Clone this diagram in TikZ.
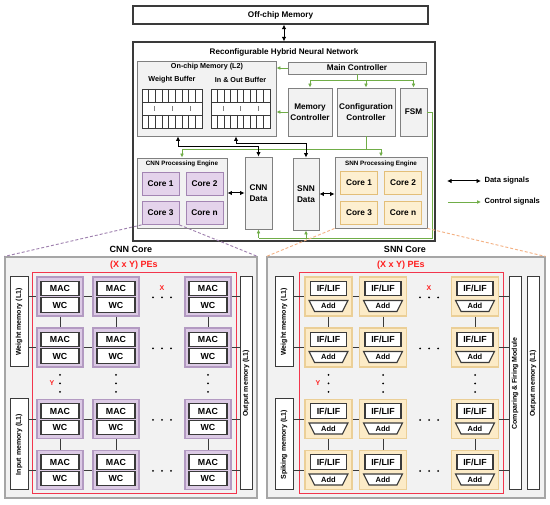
\documentclass[tikz,border=0pt]{standalone}
\usepackage{fontspec}
\setmainfont{Liberation Sans}
\usetikzlibrary{arrows.meta,shapes.geometric,calc}
\definecolor{dark}{HTML}{3A3A3A}
\definecolor{boxgray}{HTML}{808080}
\definecolor{fillgray}{HTML}{F2F2F2}
\definecolor{cgreen}{HTML}{70AD47}
\definecolor{pfill}{HTML}{E4D3EB}
\definecolor{pdraw}{HTML}{A385B3}
\definecolor{pefill}{HTML}{DCCAE5}
\definecolor{pedraw}{HTML}{B39AC2}
\definecolor{yfill}{HTML}{FDEFD0}
\definecolor{ydraw}{HTML}{E3BE78}
\definecolor{yefill}{HTML}{FCEBC7}
\definecolor{yedraw}{HTML}{EBCF97}
\definecolor{rline}{HTML}{F2364D}
\definecolor{rtext}{HTML}{FF1F1F}
\definecolor{odash}{HTML}{F4B183}
\definecolor{pdash}{HTML}{9E7FAE}
\definecolor{coregray}{HTML}{A6A6A6}
\newcommand{\fsz}[2]{\fontsize{#1}{#2}\selectfont\bfseries}
\newcommand{\drawbuf}[2]{%
  \draw[dark, line width=0.8pt, fill=white] (#1,89) rectangle (#2,128);
  \draw[dark, line width=0.8pt] (#1,102) -- (#2,102) (#1,115) -- (#2,115);
  \foreach \i in {1,...,8} {
    \draw[dark, line width=0.8pt] ({#1+(#2-#1)*\i/9},89) -- ++(0,13) ({#1+(#2-#1)*\i/9},115) -- ++(0,13);
  }
  \foreach \f in {0.2,0.5,0.8} \draw[gray, line width=0.6pt] ({#1+(#2-#1)*\f},106) -- ++(0,5);
}
\begin{document}
\begin{tikzpicture}[x=1pt,y=-1pt,
  arr/.style={draw=black, line width=1pt, {Latex[length=4.5pt,width=4.5pt]}-{Latex[length=4.5pt,width=4.5pt]}},
  gline/.style={draw=cgreen, line width=0.9pt},
  garr/.style={gline, -{Latex[length=4pt,width=3.8pt]}},
  gbox/.style={draw=boxgray, fill=fillgray, line width=0.9pt, inner sep=0pt, align=center},
  mainbox/.style={draw=dark, fill=white, line width=1.2pt, inner sep=0pt},
  ccore/.style={draw=pdraw, fill=pfill, line width=0.8pt, minimum width=37pt, minimum height=23pt, inner sep=0pt, font={\fsz{8.3}{9}}},
  score/.style={draw=ydraw, fill=yfill, line width=0.8pt, minimum width=37pt, minimum height=23pt, inner sep=0pt, font={\fsz{8.3}{9}}},
  corebox/.style={draw=coregray, fill=fillgray, line width=1.1pt, inner sep=0pt},
  membox/.style={draw=dark, fill=white, line width=1pt, inner sep=0pt},
  redbox/.style={draw=rline, line width=1pt, inner sep=0pt},
  cpestyle/.style={draw=pedraw, fill=pefill, line width=1.5pt, minimum width=46pt, minimum height=39pt, inner sep=0pt},
  spestyle/.style={draw=yedraw, fill=yefill, line width=1.3pt, minimum width=47pt, minimum height=39pt, inner sep=0pt},
  inbox/.style={draw=dark, fill=white, line width=1.1pt, minimum width=38pt, minimum height=14.5pt, inner sep=0pt, font={\fsz{8.8}{9}}},
  addbox/.style={trapezium, trapezium angle=62, shape border rotate=180, trapezium stretches=true, minimum width=39pt, minimum height=11pt, inner sep=0pt, draw=dark, fill=white, line width=1.1pt, font={\fsz{7.5}{8}}},
  conn/.style={draw=dark, line width=0.9pt},
  rot/.style={rotate=90, font={\fsz{7}{8}}, inner sep=0pt},
  redlbl/.style={text=rtext, font={\fsz{9}{10}}},
  pdashed/.style={draw=pdash, line width=0.9pt, dash pattern=on 3pt off 2pt},
  odashed/.style={draw=odash, line width=0.9pt, dash pattern=on 3pt off 2pt}
]
\useasboundingbox[fill=white] (0,0) rectangle (550,505);

% ---------- top level ----------
\node[mainbox, minimum width=295pt, minimum height=18pt, font={\fsz{8.2}{9}}] (off) at (280.5,15) {Off-chip Memory};
\node[mainbox, minimum width=302pt, minimum height=199pt] (rhnn) at (284,141.5) {};
\node[font={\fsz{8.1}{9}}] (title) at (284,52) {Reconfigurable Hybrid Neural Network};
\draw[arr] (off.south -| title) -- (rhnn.north -| title);

% on-chip memory
\node[gbox, minimum width=139pt, minimum height=75pt] (onchip) at (206.5,98.5) {};
\node[font={\fsz{7.2}{8}}] (octitle) at (207,67) {On-chip Memory (L2)};
\node[font={\fsz{7.2}{8}}] (wbt) at (172,80) {Weight Buffer};
\node[font={\fsz{7.2}{8}}] (iot) at (240.5,80) {In \& Out Buffer};
\drawbuf{142}{202}
\drawbuf{211}{270}

% controllers
\node[gbox, minimum width=138pt, minimum height=12pt, font={\fsz{8.2}{9}}] (mc) at (357,68) {Main Controller};
\node[gbox, minimum width=44pt, minimum height=48pt, font={\fsz{8.2}{10.5}}] (memc) at (310,112) {Memory\\Controller};
\node[gbox, minimum width=58pt, minimum height=48pt, font={\fsz{8.2}{10.5}}] (cfg) at (366,112) {Configuration\\Controller};
\node[gbox, minimum width=27pt, minimum height=48pt, font={\fsz{8.2}{10.5}}] (fsm) at (413.5,112) {FSM};

% engines
\node[gbox, minimum width=90pt, minimum height=70pt] (cpe) at (182,193) {};
\node[font={\fsz{6.3}{7}}] (cpet) at (182,164) {CNN Processing Engine};
\node[ccore] (cc1) at (160.5,183.5) {Core 1};
\node[ccore] (cc2) at (204.5,183.5) {Core 2};
\node[ccore] (cc3) at (160.5,213) {Core 3};
\node[ccore] (ccn) at (204.5,213) {Core n};
\node[gbox, minimum width=27pt, minimum height=72pt, font={\fsz{8.3}{10.5}}] (cdata) at (258.5,193) {CNN\\Data};
\node[gbox, minimum width=26pt, minimum height=72pt, font={\fsz{8.3}{10.5}}] (sdata) at (306,194) {SNN\\Data};
\node[gbox, minimum width=92pt, minimum height=71pt] (spe) at (381,192.5) {};
\node[font={\fsz{6.3}{7}}] (spet) at (381,164) {SNN Processing Engine};
\node[score] (sc1) at (359,182.5) {Core 1};
\node[score] (sc2) at (403,182.5) {Core 2};
\node[score] (sc3) at (359,212.5) {Core 3};
\node[score] (scn) at (403,212.5) {Core n};

% green control lines
\draw[garr] (mc.west) -- (mc.west -| onchip.east);
\draw[garr] (memc.west) -- (memc.west -| onchip.east);
\coordinate (mcj) at (357,80);
\draw[gline] (mc.south) -- (mcj);
\draw[gline] (mcj -| memc) -- (mcj -| fsm);
\draw[garr] (mcj -| memc) -- (memc.north);
\draw[garr] (mcj -| cfg) -- (cfg.north);
\draw[garr] (mcj -| fsm) -- (fsm.north);
\coordinate (fr) at (432,112);
\coordinate (fb) at (432,238);
\draw[gline] (fsm.east) -- (fr) -- (fb) -- (fb -| cdata);
\draw[garr] (fb -| cdata) -- (cdata.south);
\draw[garr] (fb -| sdata) -- (sdata.south);
\coordinate (cj) at (366,149.5);
\draw[gline] (cfg.south) -- (cj);
\draw[gline] (cj -| cpe) -- (cj -| spe);
\draw[garr] (cj -| cpe) -- (cpe.north);
\draw[garr] (cj -| spe) -- (spe.north);

% black data lines
\coordinate (k1) at (178,147);
\draw[arr] (k1 |- onchip.south) -- (k1) -- (k1 -| cdata) -- (cdata.north);
\coordinate (k2) at (236,144);
\draw[arr] (k2 |- onchip.south) -- (k2) -- (k2 -| sdata) -- (sdata.north);
\draw[arr] (cpe.east) -- (cdata.west);
\draw[arr] (sdata.east) -- (sdata.east -| spe.west);

% legend
\node[anchor=west, font={\fsz{7.6}{9}}] (dsig) at (481,181) {Data signals};
\node[anchor=west, font={\fsz{7.6}{9}}] (csig) at (481,202) {Control signals};
\coordinate (dl) at (447,181);
\coordinate (cl) at (448,202);
\draw[arr] (dl) -- (dsig.west);
\draw[garr] (cl) -- (csig.west);

% ---------- core boxes ----------
\node[corebox, minimum width=252pt, minimum height=241pt] (cnncore) at (131,377.5) {};
\node[corebox, minimum width=278pt, minimum height=241pt] (snncore) at (406,377.5) {};
\draw[pdashed] (cc3.south west) -- (cnncore.north west);
\draw[pdashed] (cc3.south east) -- (cnncore.north east);
\draw[odashed] (spe.south west) -- (snncore.north west);
\draw[odashed] (spe.south east) -- (snncore.north east);
\node[font={\fsz{9}{10}}] (cnnt) at (131,249) {CNN Core};
\node[font={\fsz{9}{10}}] (snnt) at (405,249) {SNN Core};

% ---------- CNN core ----------
\node[redlbl] (cxy) at (134,265.5) {(X x Y) PEs};
\node[redbox, minimum width=204pt, minimum height=221pt] (cred) at (134,383.5) {};
\node[membox, minimum width=18pt, minimum height=90pt] (cwm) at (19,322) {};
\node[rot] at (cwm.center) {Weight memory (L1)};
\node[membox, minimum width=18pt, minimum height=91pt] (cim) at (19,444.5) {};
\node[rot] at (cim.center) {Input memory (L1)};
\node[membox, minimum width=12pt, minimum height=213pt] (cout) at (246,383.5) {};
\node[rot] at (cout.center) {Output memory (L1)};

\foreach \ci/\xx in {1/60,2/116,3/208} {
  \foreach \ri/\yy in {1/296.5,2/347.5,3/419,4/470} {
    \node[cpestyle] (cp-\ri-\ci) at (\xx,\yy) {};
    \node[inbox] (cm-\ri-\ci) at (\xx,\yy-8) {MAC};
    \node[inbox] (cw-\ri-\ci) at (\xx,\yy+8.5) {WC};
  }
}
\foreach \ri in {1,2,3,4} {
  \draw[conn] (cp-\ri-1.east) -- (cp-\ri-2.west);
  \draw[conn] (cp-\ri-3.east) -- (cp-\ri-3.east -| cout.west);
}
\foreach \ri in {1,2} \draw[conn] (cwm.east |- cp-\ri-1) -- (cp-\ri-1.west);
\foreach \ri in {3,4} \draw[conn] (cim.east |- cp-\ri-1) -- (cp-\ri-1.west);
\foreach \ci in {1,2,3} {
  \draw[conn] (cp-1-\ci.south) -- (cp-2-\ci.north);
  \draw[conn] (cp-3-\ci.south) -- (cp-4-\ci.north);
}
\foreach \yy in {297.5,348.5,420,471} \foreach \dx in {-9,0,9} \fill[black] (162+\dx,\yy) circle (1pt);
\foreach \xx in {60,116,208} \foreach \yy in {375,383.5,392} \fill[black] (\xx,\yy) circle (1pt);
\node[text=rtext, font={\fsz{7}{8}}] (cx) at (162,288) {X};
\node[text=rtext, font={\fsz{7}{8}}] (cy) at (52,383.5) {Y};

% ---------- SNN core ----------
\node[redlbl] (sxy) at (401,265.5) {(X x Y) PEs};
\node[redbox, minimum width=204pt, minimum height=221pt] (sred) at (401,383.5) {};
\node[membox, minimum width=18pt, minimum height=90pt] (swm) at (284,322) {};
\node[rot] at (swm.center) {Weight memory (L1)};
\node[membox, minimum width=18pt, minimum height=91pt] (ssm) at (284,444.5) {};
\node[rot] at (ssm.center) {Spiking memory (L1)};
\node[membox, minimum width=12pt, minimum height=213pt] (cfm) at (515,383.5) {};
\node[rot] at (cfm.center) {Comparing \& Firing Module};
\node[membox, minimum width=12pt, minimum height=213pt] (sout) at (533,383.5) {};
\node[rot] at (sout.center) {Output memory (L1)};

\foreach \ci/\xx in {1/328.5,2/383,3/475} {
  \foreach \ri/\yy in {1/296.5,2/347.5,3/419,4/470} {
    \node[spestyle] (sp-\ri-\ci) at (\xx,\yy) {};
    \node[inbox, minimum width=36pt] (si-\ri-\ci) at (\xx,\yy-8) {IF/LIF};
    \node[addbox] (sa-\ri-\ci) at (\xx,\yy+9.5) {Add};
  }
}
\foreach \ri in {1,2,3,4} {
  \draw[conn] (sp-\ri-1.east) -- (sp-\ri-2.west);
  \draw[conn] (sp-\ri-3.east) -- (sp-\ri-3.east -| cfm.west);
}
\foreach \ri in {1,2} \draw[conn] (swm.east |- sp-\ri-1) -- (sp-\ri-1.west);
\foreach \ri in {3,4} \draw[conn] (ssm.east |- sp-\ri-1) -- (sp-\ri-1.west);
\foreach \ci in {1,2,3} {
  \draw[conn] (sp-1-\ci.south) -- (sp-2-\ci.north);
  \draw[conn] (sp-3-\ci.south) -- (sp-4-\ci.north);
}
\foreach \yy in {297.5,348.5,420,471} \foreach \dx in {-9,0,9} \fill[black] (429+\dx,\yy) circle (1pt);
\foreach \xx in {328.5,383,475} \foreach \yy in {375,383.5,392} \fill[black] (\xx,\yy) circle (1pt);
\node[text=rtext, font={\fsz{7}{8}}] (sx) at (429,288) {X};
\node[text=rtext, font={\fsz{7}{8}}] (sy) at (318,383.5) {Y};
\end{tikzpicture}
\end{document}
